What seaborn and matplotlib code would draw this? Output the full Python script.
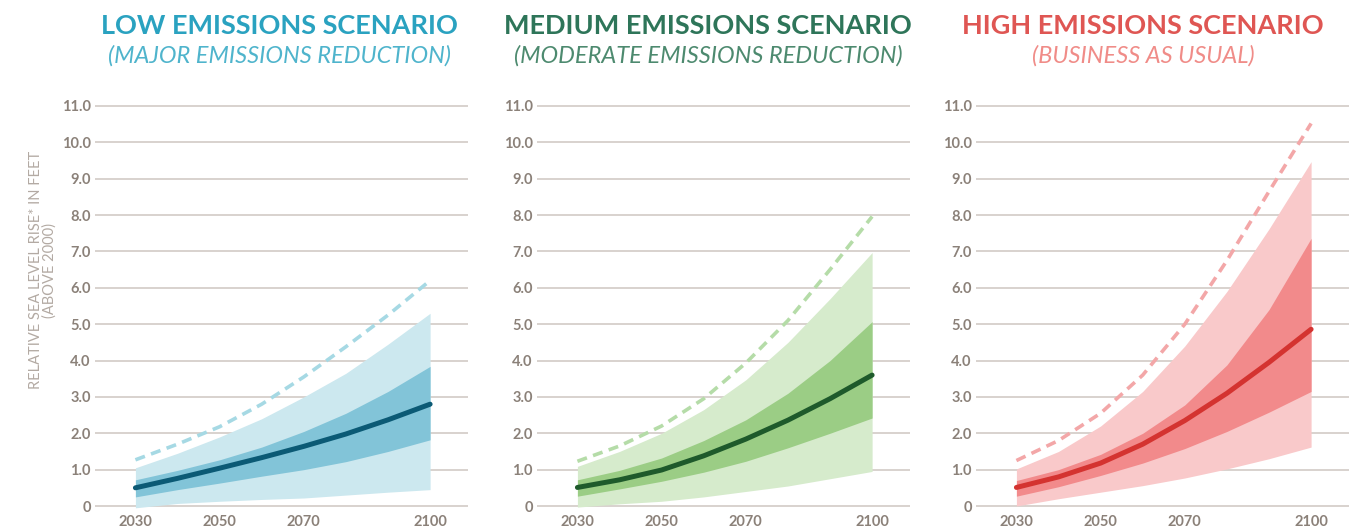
import seaborn as sns
import matplotlib.pyplot as plt
import pandas as pd

# Jahre und Werte (Fuss)
years = [2030, 2040, 2050, 2060, 2070, 2080, 2090, 2100]

low_median = [0.5, 0.76, 1.04, 1.33, 1.64, 1.98, 2.37, 2.8]
low_dark_lo = [0.25, 0.45, 0.63, 0.82, 1.0, 1.22, 1.5, 1.82]
low_dark_hi = [0.72, 0.98, 1.27, 1.62, 2.05, 2.55, 3.15, 3.84]
low_light_lo = [-0.05, 0.07, 0.13, 0.18, 0.22, 0.3, 0.38, 0.45]
low_light_hi = [1.05, 1.45, 1.9, 2.4, 3.0, 3.65, 4.45, 5.3]
low_extreme = [1.27, 1.7, 2.18, 2.8, 3.55, 4.38, 5.25, 6.2]

med_median = [0.51, 0.72, 0.99, 1.38, 1.84, 2.36, 2.95, 3.6]
med_dark_lo = [0.27, 0.47, 0.68, 0.93, 1.23, 1.6, 2.0, 2.42]
med_dark_hi = [0.72, 0.98, 1.32, 1.8, 2.37, 3.1, 4.0, 5.07]
med_light_lo = [-0.03, 0.06, 0.13, 0.25, 0.4, 0.55, 0.75, 0.95]
med_light_hi = [1.09, 1.5, 2.0, 2.65, 3.47, 4.5, 5.7, 6.97]
med_extreme = [1.23, 1.65, 2.2, 2.95, 3.93, 5.1, 6.5, 7.96]

high_median = [0.51, 0.8, 1.18, 1.7, 2.35, 3.1, 3.95, 4.86]
high_dark_lo = [0.27, 0.53, 0.84, 1.18, 1.58, 2.05, 2.58, 3.15]
high_dark_hi = [0.7, 1.0, 1.42, 2.0, 2.78, 3.88, 5.4, 7.36]
high_light_lo = [0.0, 0.2, 0.38, 0.56, 0.77, 1.02, 1.3, 1.62]
high_light_hi = [1.02, 1.5, 2.2, 3.15, 4.4, 5.9, 7.62, 9.47]
high_extreme = [1.25, 1.8, 2.55, 3.6, 5.0, 6.75, 8.65, 10.52]

titles = ["LOW EMISSIONS SCENARIO", "MEDIUM EMISSIONS SCENARIO", "HIGH EMISSIONS SCENARIO"]
subtitles = ["(MAJOR EMISSIONS REDUCTION)", "(MODERATE EMISSIONS REDUCTION)", "(BUSINESS AS USUAL)"]
ytick_vals = [0, 1, 2, 3, 4, 5, 6, 7, 8, 9, 10, 11]
ytick_labels = ["0", "1.0", "2.0", "3.0", "4.0", "5.0", "6.0", "7.0", "8.0", "9.0", "10.0", "11.0"]
xtick_vals = [2030, 2050, 2070, 2100]

panels = [
    (low_median, low_dark_lo, low_dark_hi, low_light_lo, low_light_hi, low_extreme),
    (med_median, med_dark_lo, med_dark_hi, med_light_lo, med_light_hi, med_extreme),
    (high_median, high_dark_lo, high_dark_hi, high_light_lo, high_light_hi, high_extreme),
]

# farben: titel, untertitel, gestrichelt, hell, dunkel, median
farben = [
    ("#2aa2c0", "#4fb4cc", "#a6d9e4", "#cce8ef", "#82c4d8", "#0b5a75"),
    ("#2e7559", "#4d8a6f", "#b5dca8", "#d6ebcc", "#9bcd85", "#1e5a2b"),
    ("#df5653", "#f08c88", "#f3a7a8", "#f9c9ca", "#f28a8b", "#d43330"),
]

sns.set_theme(style="white")
plt.rcParams['font.family'] = ['Lato', 'DejaVu Sans']

fig = plt.figure(figsize=(13.69, 5.31), dpi=100)
W, H = 1369, 531
ax_left = [95, 537, 976]
ax_w = 373
ylo, yhi = -0.2, 11.2
px_unit = 400 / 11
ax_bottom_px = 506 + (0 - ylo) * px_unit
ax_top_px = 106 - (yhi - 11) * px_unit
title_x = [279, 708, 1143]

grau = "#8b8179"

for i, (data, col) in enumerate(zip(panels, farben)):
    median, dlo, dhi, llo, lhi, ext = data
    ax = fig.add_axes([ax_left[i] / W, 1 - ax_bottom_px / H, ax_w / W, (ax_bottom_px - ax_top_px) / H])
    for v in ytick_vals:
        ax.axhline(v, color="#d8d2ce", lw=1.4, zorder=0)
    ax.fill_between(years, llo, lhi, color=col[3], lw=0, zorder=1)
    ax.fill_between(years, dlo, dhi, color=col[4], lw=0, zorder=2)
    df = pd.DataFrame({"jahr": years, "median": median, "extrem": ext})
    sns.lineplot(data=df, x="jahr", y="extrem", ax=ax, color=col[2], lw=2.6, zorder=3)
    ax.lines[-1].set_dashes((2.8, 1.8))
    sns.lineplot(data=df, x="jahr", y="median", ax=ax, color=col[5], lw=3.6, zorder=4,
                 solid_capstyle="round", solid_joinstyle="round")
    ax.set_xlim(2020.4, 2109.0)
    ax.set_ylim(ylo, yhi)
    ax.set_yticks(ytick_vals)
    ax.set_yticklabels(ytick_labels)
    ax.set_xticks(xtick_vals)
    ax.set_xticklabels([str(x) for x in xtick_vals])
    ax.tick_params(axis="both", length=0, colors=grau, labelsize=10.5)
    ax.tick_params(axis="y", pad=3)
    ax.tick_params(axis="x", pad=1)
    for lab in ax.get_xticklabels() + ax.get_yticklabels():
        lab.set_fontweight("bold")
    ax.set_xlabel("")
    ax.set_ylabel("")
    sns.despine(ax=ax, left=True, bottom=True)
    ax.patch.set_alpha(0)

    fig.text(title_x[i] / W, 1 - 26 / H, titles[i], ha="center", va="center",
             fontsize=19.5, fontweight="bold", color=col[0])
    fig.text(title_x[i] / W, 1 - 56 / H, subtitles[i], ha="center", va="center",
             fontsize=17, fontstyle="italic", fontweight="normal", color=col[1])

fig.text(43 / W, 1 - 270 / H, "RELATIVE SEA LEVEL RISE* IN FEET\n(ABOVE 2000)",
         rotation=90, ha="center", va="center", fontsize=10.5, color="#b3aaa3",
         linespacing=1.0)

fig.savefig("out.png", dpi=100)
